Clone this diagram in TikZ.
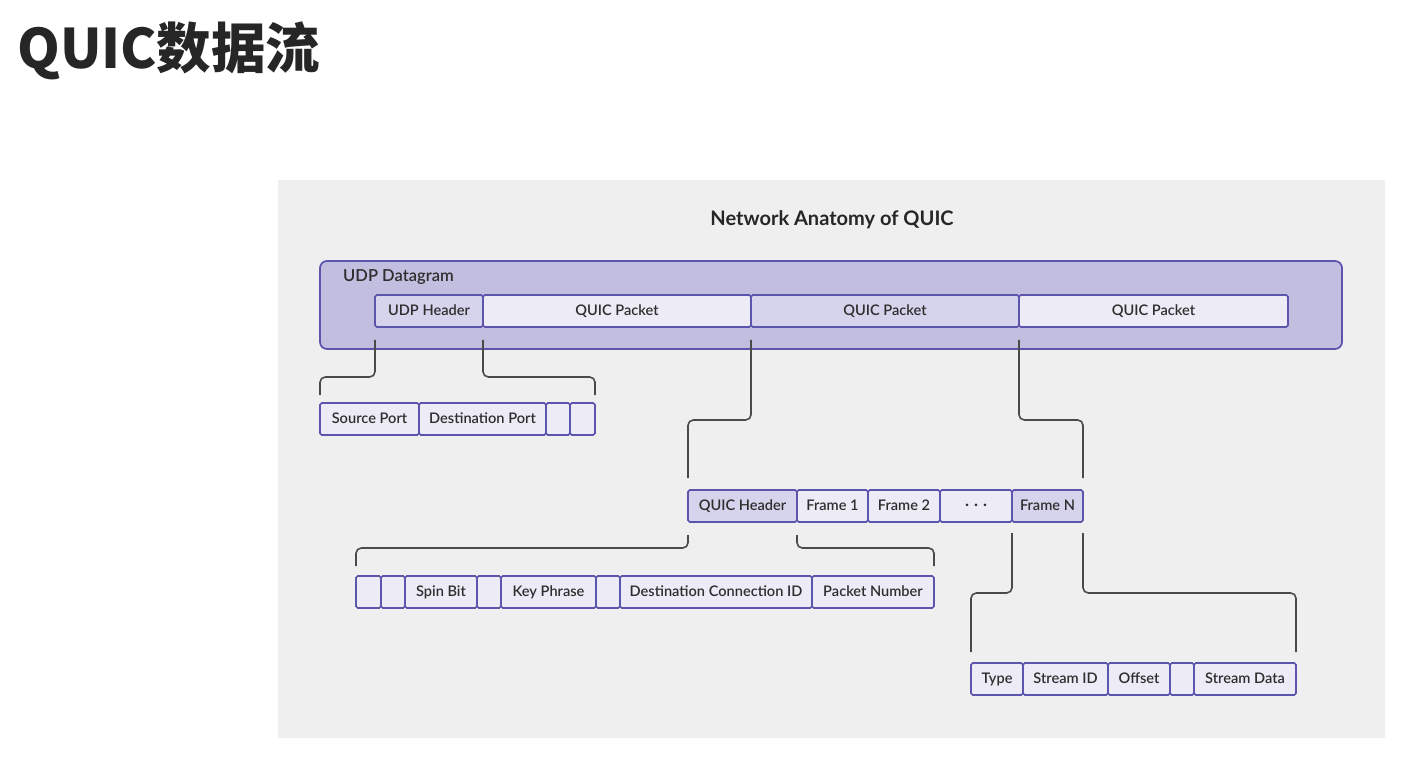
\documentclass[tikz,border=0pt]{standalone}
\usepackage{fontspec}
\setmainfont{Lato}
\newfontfamily\cellfont{Lato Semibold}
\newfontfamily\cjkfont{Noto Sans CJK SC}
\usepackage{xcolor}
\usepackage{tikz}
\usetikzlibrary{positioning,calc}
\definecolor{panelGray}{HTML}{EFEFEF}
\definecolor{dgFill}{HTML}{C2BEE0}
\definecolor{dgEdge}{HTML}{5C55AE}
\definecolor{cellLight}{HTML}{ECEBF6}
\definecolor{cellMid}{HTML}{D6D3EC}
\definecolor{linkGray}{HTML}{4A4A4A}
\definecolor{inkGray}{HTML}{2E2E2E}

\begin{document}
\begin{tikzpicture}[
        font=\cellfont\fontsize{8.3}{10}\selectfont,
        cell/.style={draw=dgEdge, line width=0.9pt, fill=cellLight, minimum height=0.64cm, inner sep=0pt, outer sep=0pt, text=inkGray, text depth=0.2ex, rounded corners=1pt},
        midcell/.style={cell, fill=cellMid},
        link/.style={draw=linkGray, line width=0.9pt, rounded corners=3pt}
    ]
        \useasboundingbox (0,0) rectangle (28.24,-15.28);
        \fill[white] (0,0) rectangle (28.24,-15.28);

        % --- slide title and grey panel ---
        \node[anchor=west, font=\cjkfont\bfseries\fontsize{31}{36}\selectfont, text=black!85] (slidetitle) at (0.22,-1.02) {QUIC数据流};
        \fill[panelGray] (5.56,-3.60) rectangle (27.70,-14.76);
        \node[font=\bfseries\fontsize{11.4}{13}\selectfont, text=black!85] (heading) at (16.64,-4.40) {Network Anatomy of QUIC};

        % --- UDP datagram with its packets ---
        \node[draw=dgEdge, fill=dgFill, line width=1pt, rounded corners=4pt, minimum width=20.44cm, minimum height=1.76cm] (datagram) at (16.62,-6.10) {};
        \node[anchor=west, font=\cellfont\fontsize{9.4}{11}\selectfont, text=inkGray] (dglabel) at (6.74,-5.54) {UDP Datagram};
        \node[midcell, minimum width=2.16cm, anchor=west] (udph) at (7.50,-6.22) {UDP Header};
        \node[cell, minimum width=5.36cm, right=0pt of udph] (qp1) {QUIC Packet};
        \node[midcell, minimum width=5.36cm, right=0pt of qp1] (qp2) {QUIC Packet};
        \node[cell, minimum width=5.38cm, right=0pt of qp2] (qp3) {QUIC Packet};

        % --- UDP header fields ---
        \node[cell, minimum width=1.98cm, anchor=west] (src) at (6.40,-8.38) {Source Port};
        \node[cell, minimum width=2.54cm, right=0pt of src] (dstp) {Destination Port};
        \node[cell, minimum width=0.48cm, right=0pt of dstp] (e1) {};
        \node[cell, minimum width=0.50cm, right=0pt of e1] (e2) {};

        % --- QUIC packet: header and frames ---
        \node[midcell, minimum width=2.18cm, anchor=west] (qh) at (13.76,-10.12) {QUIC Header};
        \node[cell, minimum width=1.42cm, right=0pt of qh] (fr1) {Frame 1};
        \node[cell, minimum width=1.44cm, right=0pt of fr1] (fr2) {Frame 2};
        \node[cell, minimum width=1.44cm, right=0pt of fr2] (dots) {\textbf{.\hspace{1.1mm}.\hspace{1.1mm}.}};
        \node[midcell, minimum width=1.42cm, right=0pt of dots] (frN) {Frame N};

        % --- QUIC header fields ---
        \node[cell, minimum width=0.50cm, anchor=west] (h1) at (7.12,-11.84) {};
        \node[cell, minimum width=0.48cm, right=0pt of h1] (h2) {};
        \node[cell, minimum width=1.44cm, right=0pt of h2] (spin) {Spin Bit};
        \node[cell, minimum width=0.48cm, right=0pt of spin] (h3) {};
        \node[cell, minimum width=1.90cm, right=0pt of h3] (keyp) {Key Phrase};
        \node[cell, minimum width=0.48cm, right=0pt of keyp] (h4) {};
        \node[cell, minimum width=3.84cm, right=0pt of h4] (dcid) {Destination Connection ID};
        \node[cell, minimum width=2.44cm, right=0pt of dcid] (pnum) {Packet Number};

        % --- stream frame fields ---
        \node[cell, minimum width=1.04cm, anchor=west] (ftype) at (19.42,-13.58) {Type};
        \node[cell, minimum width=1.70cm, right=0pt of ftype] (sid) {Stream ID};
        \node[cell, minimum width=1.24cm, right=0pt of sid] (offs) {Offset};
        \node[cell, minimum width=0.48cm, right=0pt of offs] (f4) {};
        \node[cell, minimum width=2.04cm, right=0pt of f4] (sdata) {Stream Data};

        % --- brackets ---
        \draw[link] ([yshift=-2.6mm]udph.south west) -- ++(0,-0.74) -| ([yshift=1.6mm]src.north west);
        \draw[link] ([yshift=-2.6mm]udph.south east) -- ++(0,-0.74) -| ([yshift=1.6mm]e2.north east);
        \draw[link] ([yshift=-2.6mm]qp2.south west) -- ++(0,-1.6) -| ([yshift=2.4mm]qh.north west);
        \draw[link] ([yshift=-2.6mm]qp3.south west) -- ++(0,-1.6) -| ([yshift=2.4mm]frN.north east);
        \draw[link] ([yshift=-2.6mm]qh.south west) -- ++(0,-0.26) -| ([yshift=2mm]h1.north west);
        \draw[link] ([yshift=-2.6mm]fr1.south west) -- ++(0,-0.26) -| ([yshift=2mm]pnum.north east);
        \draw[link] ([yshift=-2.2mm]frN.south west) -- ++(0,-1.2) -| ([yshift=2.2mm]ftype.north west);
        \draw[link] ([yshift=-2.2mm]frN.south east) -- ++(0,-1.2) -| ([yshift=2.2mm]sdata.north east);
    \end{tikzpicture}
\end{document}
